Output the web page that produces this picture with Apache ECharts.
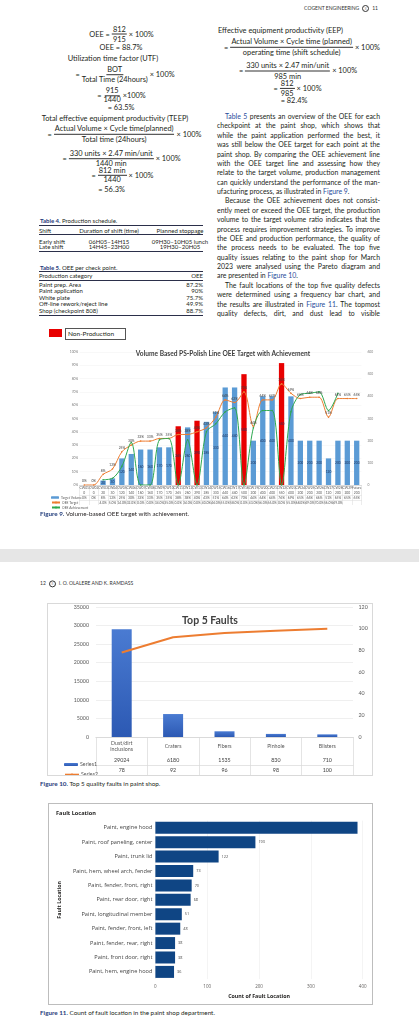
<!DOCTYPE html>
<html>
<head>
<meta charset="utf-8">
<script src="https://cdn.jsdelivr.net/npm/echarts/dist/echarts.min.js"></script>
<style>
html,body{margin:0;padding:0;background:#fff}
body{width:419px;height:1024px;position:relative;overflow:hidden;font-family:Lato,"Noto Sans",sans-serif;color:#231f20}
.a{position:absolute;white-space:nowrap}
.c{transform:translate(-50%,-50%)}
.l{transform:translate(0,-50%)}
.t{font-size:7.4px;line-height:9px}
.eq{display:flex;align-items:center;font-size:7.4px}
.fr{display:inline-flex;flex-direction:column;align-items:center;margin:0 2px}
.fr span:first-child{border-bottom:0.6px solid #333;padding:0 1px}
.hd{font-size:5px;color:#333}
.ico{display:inline-block;width:5px;height:5px;border:0.6px solid #333;border-radius:50%;vertical-align:middle;margin:0 3px;font-size:4px;line-height:5px;text-align:center}
.tb{font-size:6px;line-height:6px}
.rule{position:absolute;left:39px;width:164px;background:#2b2f4a}
.cap{font-size:6.3px}
.tc{font-size:6px}
.cap b{color:#1f3b7a}
a{color:#2a4d9b;text-decoration:none}
.jl{position:absolute;left:217px;width:163px;font-size:6.9px;line-height:8px;text-align:justify;text-align-last:justify;white-space:nowrap;color:#231f20}
.jl.end{text-align-last:left}
.jl.ind{padding-left:8px;width:155px}
.chart{position:absolute}
</style>
</head>
<body>
<!-- page 1 header -->
<div class="a hd" style="right:41px;top:4.5px">COGENT ENGINEERING<span class="ico">&#8801;</span>11</div>

<!-- left column equations -->
<div class="a eq c" style="left:121.5px;top:33.8px;line-height:9px">OEE =<span class="fr"><span>812</span><span>915</span></span>× 100%</div>
<div class="a t c" style="left:121px;top:46.7px">OEE = 88.7%</div>
<div class="a t c" style="left:113px;top:57.7px">Utilization time factor (UTF)</div>
<div class="a eq c" style="left:125px;top:74.7px;line-height:9.3px">=<span class="fr"><span>BOT</span><span>Total Time (24hours)</span></span>× 100%</div>
<div class="a eq c" style="left:121.5px;top:96px;line-height:8.2px">=<span class="fr"><span>915</span><span>1440</span></span>×100%</div>
<div class="a t c" style="left:121px;top:107.3px">= 63.5%</div>
<div class="a t c" style="left:115px;top:118px">Total effective equipment productivity (TEEP)</div>
<div class="a eq c" style="left:124.5px;top:134.2px;line-height:9.7px">=<span class="fr"><span>Actual Volume × Cycle time(planned)</span><span>Total time (24hours)</span></span>× 100%</div>
<div class="a eq c" style="left:121.5px;top:158.7px;line-height:9.3px">=<span class="fr"><span>330 units × 2.47 min/unit</span><span>1440 min</span></span>× 100%</div>
<div class="a eq c" style="left:122.5px;top:175.7px;line-height:8.7px">=<span class="fr"><span>812 min</span><span>1440</span></span>× 100%</div>
<div class="a t c" style="left:111.5px;top:189.3px">= 56.3%</div>

<!-- Table 4 -->
<div class="a cap tc l" style="left:40px;top:220px"><b>Table 4.</b> Production schedule.</div>
<div class="rule" style="top:225px;height:0.8px"></div>
<div class="a tb l" style="left:39px;top:230.7px">Shift</div>
<div class="a tb c" style="left:109px;top:230.7px">Duration of shift (time)</div>
<div class="a tb c" style="left:180px;top:230.7px">Planned stoppage</div>
<div class="rule" style="top:234.2px;height:1.2px"></div>
<div class="a tb l" style="left:39px;top:241.5px">Early shift</div>
<div class="a tb c" style="left:109px;top:241.5px">06H05–14H15</div>
<div class="a tb c" style="left:180px;top:241.5px">09H30–10H05 lunch</div>
<div class="a tb l" style="left:39px;top:247.3px">Late shift</div>
<div class="a tb c" style="left:109px;top:247.3px">14H45–23H00</div>
<div class="a tb c" style="left:180px;top:247.3px">19H30–20H05</div>
<div class="rule" style="top:250.6px;height:0.8px"></div>

<!-- Table 5 -->
<div class="a cap tc l" style="left:40px;top:266.7px"><b>Table 5.</b> OEE per check point.</div>
<div class="rule" style="top:270.5px;height:0.8px"></div>
<div class="a tb l" style="left:39px;top:276px">Production category</div>
<div class="a tb" style="right:216px;top:273px;text-align:right">OEE</div>
<div class="rule" style="top:279.5px;height:1.2px"></div>
<div class="a tb l" style="left:39px;top:285px">Paint prep. Area</div>
<div class="a tb l" style="left:39px;top:291.3px">Paint application</div>
<div class="a tb l" style="left:39px;top:297.7px">White plate</div>
<div class="a tb l" style="left:39px;top:304px">Off-line rework/reject line</div>
<div class="a tb l" style="left:39px;top:310.5px">Shop (checkpoint 808)</div>
<div class="a tb" style="right:216px;top:282px;text-align:right;line-height:6.4px">87.2%<br>90%<br>75.7%<br>49.9%<br>88.7%</div>
<div class="rule" style="top:314.6px;height:0.8px"></div>

<!-- right column -->
<div class="a t l" style="left:218px;top:30px">Effective equipment productivity (EEP)</div>
<div class="a eq c" style="left:302px;top:47.2px;line-height:9.7px">=<span class="fr"><span>Actual Volume × Cycle time (planned)</span><span>operating time (shift schedule)</span></span>× 100%</div>
<div class="a eq c" style="left:298px;top:70.7px;line-height:10px">=<span class="fr"><span>330 units × 2.47 min/unit</span><span>985 min</span></span>× 100%</div>
<div class="a eq c" style="left:297.5px;top:88.5px;line-height:9.6px">=<span class="fr"><span>812</span><span>985</span></span>× 100%</div>
<div class="a t c" style="left:294px;top:100px">= 82.4%</div>
<div id="para"></div>

<!-- Figure 9 -->
<div class="a" style="left:49px;top:329px;width:13px;height:8px;background:#e80000"></div>
<div class="a" style="left:65px;top:328px;width:57px;height:10px;border:0.6px solid #555;font-size:6.5px;line-height:10px;padding-left:2px">Non-Production</div>
<div id="fig9" class="chart" style="left:0;top:320px;width:419px;height:192px"></div>
<div class="a cap l" style="left:40px;top:513px"><b>Figure 9.</b> Volume-based OEE target with achievement.</div>

<!-- page break -->
<div class="a" style="left:0;top:549px;width:419px;height:13px;background:#e6e6e6"></div>

<!-- page 2 -->
<div class="a hd l" style="left:40px;top:584px">12<span class="ico">&#8801;</span>I. O. OLALERE AND K. RAMDASS</div>
<div id="fig10" class="chart" style="left:47px;top:603px;width:324px;height:171px;border:0.7px solid #d9d9d9"></div>
<div class="a cap l" style="left:40px;top:782.7px"><b>Figure 10.</b> Top 5 quality faults in paint shop.</div>
<div id="fig11" class="chart" style="left:48px;top:803px;width:323px;height:200px;border:1px solid #bdbdbd"></div>
<div class="a cap l" style="left:40px;top:1012.3px"><b>Figure 11.</b> Count of fault location in the paint shop department.</div>

<script>
// ---- paragraph lines (right column, page 1) ----
var paraLines = [
  ['<a>Table 5</a> presents an overview of the OEE for each', 'ind'],
  ['checkpoint at the paint shop, which shows that', ''],
  ['while the paint application performed the best, it', ''],
  ['was still below the OEE target for each point at the', ''],
  ['paint shop. By comparing the OEE achievement line', ''],
  ['with the OEE target line and assessing how they', ''],
  ['relate to the target volume, production management', ''],
  ['can quickly understand the performance of the man-', ''],
  ['ufacturing process, as illustrated in <a>Figure 9</a>.', 'end'],
  ['Because the OEE achievement does not consist-', 'ind'],
  ['ently meet or exceed the OEE target, the production', ''],
  ['volume to the target volume ratio indicates that the', ''],
  ['process requires improvement strategies. To improve', ''],
  ['the OEE and production performance, the quality of', ''],
  ['the process needs to be evaluated. The top five', ''],
  ['quality issues relating to the paint shop for March', ''],
  ['2023 were analysed using the Pareto diagram and', ''],
  ['are presented in <a>Figure 10</a>.', 'end'],
  ['The fault locations of the top five quality defects', 'ind'],
  ['were determined using a frequency bar chart, and', ''],
  ['the results are illustrated in <a>Figure 11</a>. The topmost', ''],
  ['quality defects, dirt, and dust lead to visible', '']
];
var para = document.getElementById('para');
paraLines.forEach(function (ln, i) {
  var d = document.createElement('div');
  d.className = 'jl ' + ln[1];
  d.style.top = (116 + 9.38 * i - 4) + 'px';
  d.innerHTML = ln[0];
  para.appendChild(d);
});

// ---- Figure 9 data ----
var weeks = ['CW01','CW02','CW03','CW04','CW05','CW06','CW07','CW08','CW09','CW10',
             'CW11','CW12','CW13','CW14','CW15','CW16','CW17','CW18','CW19','CW20',
             'CW21','CW22','CW23','CW24','CW25','CW26','CW27','CW28','CW29','Future'];
var targetVolume = [0, 0, 20, 30, 120, 140, 160, 160, 170, 170,
                    265, 260, 290, 285, 330, 440, 440, 500, 200, 400,
                    400, 550, 400, 200, 200, 200, 120, 200, 200, 200];
var oeeTarget = [0, 0, 8, 12, 25, 30, 33, 33, 35, 35,
                 38, 38, 40, 43, 51, 64, 62, 70, 44, 64,
                 64, 76, 69, 65, 66, 66, 51, 65, 65, 65];
var oeeAchievement = [null, null, 4, 5, 14, 32, 0, 0, 34, 35,
                      0, 34, 0, 40, 46, 55, 58, 0, 43, 56,
                      56, 0, 55, 68, 69, 70, 56, 69, null, null];
var nonProductionWeeks = ['CW11', 'CW13', 'CW18', 'CW22'];

// ---- Figure 10 data ----
var faults = ['Dust/dirt\ninclusions', 'Craters', 'Fibers', 'Pinhole', 'Blisters'];
var series1 = [29024, 6180, 1535, 830, 710];
var series2 = [78, 92, 96, 98, 100];

// ---- Figure 11 data ----
var locations = ['Paint, engine hood', 'Paint, roof paneling, center', 'Paint, trunk lid',
                 'Paint, hem, wheel arch, fender', 'Paint, fender, front, right', 'Paint, rear door, right',
                 'Paint, longitudinal member', 'Paint, fender, front, left', 'Paint, fender, rear, right',
                 'Paint, front door, right', 'Paint, hem, engine hood'];
var locationCounts = [390, 193, 122, 73, 70, 68, 51, 48, 38, 38, 36];

var tiny = 3.3;
function rowAxis(data, offset) {
  return {
    type: 'category', data: data, position: 'bottom', offset: offset, gridIndex: 0,
    axisLine: { show: true, lineStyle: { color: '#d9d9d9', width: 0.5 } },
    axisTick: { show: false },
    axisLabel: { interval: 0, fontSize: tiny, margin: 1, color: '#595959' }
  };
}
function key9(name, top) {
  return {
    orient: 'vertical', left: 46, top: top, itemWidth: 8, itemHeight: 2.5,
    textStyle: { fontSize: tiny, color: '#595959', padding: [0, 0, 0, -3] },
    data: [name]
  };
}

var fig9 = echarts.init(document.getElementById('fig9'));
fig9.setOption({
  animation: false,
  textStyle: { fontFamily: 'Lato' },
  title: {
    text: 'Volume Based PS-Polish Line OEE Target with Achievement',
    left: 218, top: 25, textAlign: 'center',
    textStyle: { fontSize: 6.6, fontWeight: 'bold', color: '#404040' }
  },
  legend: [key9('Target Volume', 171), key9('OEE Target', 176), key9('OEE Achievement', 181)],
  grid: { left: 79.6, right: 57.6, top: 32, bottom: 27 },
  xAxis: [
    {
      type: 'category', data: weeks,
      axisLine: { lineStyle: { color: '#bfbfbf', width: 0.5 } },
      axisTick: { show: true, alignWithLabel: false, length: 20, lineStyle: { color: '#d9d9d9', width: 0.5 } },
      axisLabel: { interval: 0, fontSize: tiny, margin: 1, color: '#595959' }
    },
    rowAxis(targetVolume.map(String), 5),
    rowAxis(oeeTarget.map(function (v) { return v + '%'; }), 10),
    rowAxis(oeeAchievement.map(function (v) { return v == null ? '' : v.toFixed(1) + '%'; }), 15)
  ],
  yAxis: [
    {
      type: 'value', min: 0, max: 100, interval: 10,
      axisLabel: { formatter: '{value}%', fontSize: tiny, margin: 1.5, color: '#808080' },
      splitLine: { lineStyle: { color: '#f0f0f0', width: 0.5 } }
    },
    {
      type: 'value', min: 0, max: 600, interval: 100, position: 'right',
      axisLabel: { fontSize: tiny, margin: 6, color: '#808080' },
      splitLine: { show: false }
    }
  ],
  series: [
    {
      name: 'Target Volume', type: 'bar', yAxisIndex: 1, barWidth: 5.3,
      itemStyle: { color: '#5b9bd5' },
      data: targetVolume.map(function (v, i) {
        return nonProductionWeeks.indexOf(weeks[i]) >= 0 ? { value: v, itemStyle: { color: '#e80000' } } : v;
      }),
      label: {
        show: true, position: 'inside', fontSize: tiny, color: '#1f3864',
        formatter: function (p) { return p.value ? p.value : ''; }
      }
    },
    {
      name: 'OEE Target', type: 'line', yAxisIndex: 0, smooth: 0.3,
      symbol: 'circle', symbolSize: 1.6,
      itemStyle: { color: '#ed7d31' }, lineStyle: { width: 1 },
      data: oeeTarget,
      label: { show: true, position: 'top', distance: 1.5, fontSize: tiny, color: '#404040', formatter: '{c}%' }
    },
    {
      name: 'OEE Achievement', type: 'line', yAxisIndex: 0, smooth: 0.3,
      symbol: 'circle', symbolSize: 1.6,
      itemStyle: { color: '#2ea84f' }, lineStyle: { width: 1 },
      data: oeeAchievement
    }
  ]
});

function row10(data, offset, margin) {
  return {
    type: 'category', data: data, position: 'bottom', offset: offset,
    axisLine: { show: true, lineStyle: { color: '#d9d9d9', width: 0.7 } },
    axisTick: { show: false },
    axisLabel: { interval: 0, fontSize: 5.3, margin: margin, verticalAlign: 'middle', color: '#404040' }
  };
}
function key10(name, top) {
  return {
    left: 11, top: top, itemWidth: 14, itemHeight: 3,
    textStyle: { fontSize: 5.3, color: '#595959', padding: [0, 0, 0, -3] },
    data: [name]
  };
}

var fig10 = echarts.init(document.getElementById('fig10'));
fig10.setOption({
  animation: false,
  textStyle: { fontFamily: 'Lato' },
  title: {
    text: 'Top 5 Faults', left: 'center', top: 6,
    textStyle: { fontSize: 10.5, fontWeight: 'bold', color: '#404040' }
  },
  legend: [key10('Series1', 153), key10('Series2', 163.2)],
  grid: { left: 48, right: 19, top: 3, bottom: 38 },
  xAxis: [
    {
      type: 'category', data: faults,
      axisLine: { lineStyle: { color: '#d9d9d9', width: 0.7 } },
      axisTick: { show: true, alignWithLabel: false, length: 38, lineStyle: { color: '#d9d9d9', width: 0.7 } },
      axisLabel: { interval: 0, fontSize: 5.3, lineHeight: 6.3, margin: 9.3, verticalAlign: 'middle', color: '#595959' }
    },
    row10(series1.map(String), 18, 5.3),
    row10(series2.map(String), 28, 5.5)
  ],
  yAxis: [
    {
      type: 'value', min: 0, max: 35000, interval: 5000,
      axisLabel: { fontSize: 5.3, margin: 7, color: '#595959', formatter: function (v) { return String(v); } },
      splitLine: { lineStyle: { color: '#e4e4e4', width: 0.6 } }
    },
    {
      type: 'value', min: 0, max: 120, interval: 20, position: 'right',
      axisLabel: { fontSize: 5.3, margin: 5.5, color: '#595959' },
      splitLine: { show: false }
    }
  ],
  series: [
    {
      name: 'Series1', type: 'bar', barWidth: 20, data: series1,
      itemStyle: {
        color: new echarts.graphic.LinearGradient(0, 0, 0, 1, [
          { offset: 0, color: '#4a7bd2' }, { offset: 1, color: '#2c59b3' }
        ])
      }
    },
    {
      name: 'Series2', type: 'line', yAxisIndex: 1, data: series2,
      symbol: 'none', itemStyle: { color: '#ed7d31' }, lineStyle: { width: 2 }
    }
  ]
});

var fig11 = echarts.init(document.getElementById('fig11'));
fig11.setOption({
  animation: false,
  textStyle: { fontFamily: 'Open Sans' },
  title: {
    text: 'Fault Location', left: 2, top: 1,
    textStyle: { fontSize: 5.6, fontWeight: 'bold', color: '#252423' }
  },
  grid: { left: 87.7, right: 9.3, top: 16.6, bottom: 20.9 },
  xAxis: {
    type: 'value', min: 0, max: 400, interval: 100,
    name: 'Count of Fault Location', nameLocation: 'middle', nameGap: 13.5,
    nameTextStyle: { fontSize: 5.3, fontWeight: 'bold', color: '#252423' },
    axisLabel: { fontSize: 4.5, margin: 5, color: '#605e5c' },
    axisLine: { show: false }, axisTick: { show: false },
    splitLine: { lineStyle: { color: '#ececec', width: 0.6 } }
  },
  yAxis: {
    type: 'category', data: locations, inverse: true,
    name: 'Fault Location', nameLocation: 'middle', nameGap: 82, nameRotate: 90,
    nameTextStyle: { fontSize: 5.3, fontWeight: 'bold', color: '#252423' },
    axisLabel: { fontSize: 5.6, margin: 3, color: '#444' },
    axisLine: { show: false }, axisTick: { show: false }
  },
  series: [{
    type: 'bar', data: locationCounts, barWidth: 12,
    itemStyle: { color: '#0f4584' },
    label: {
      show: true, position: 'right', distance: 3, fontSize: 3.8, color: '#444',
      formatter: function (p) { return p.value > 300 ? '' : p.value; }
    }
  }]
});
</script>
</body>
</html>
